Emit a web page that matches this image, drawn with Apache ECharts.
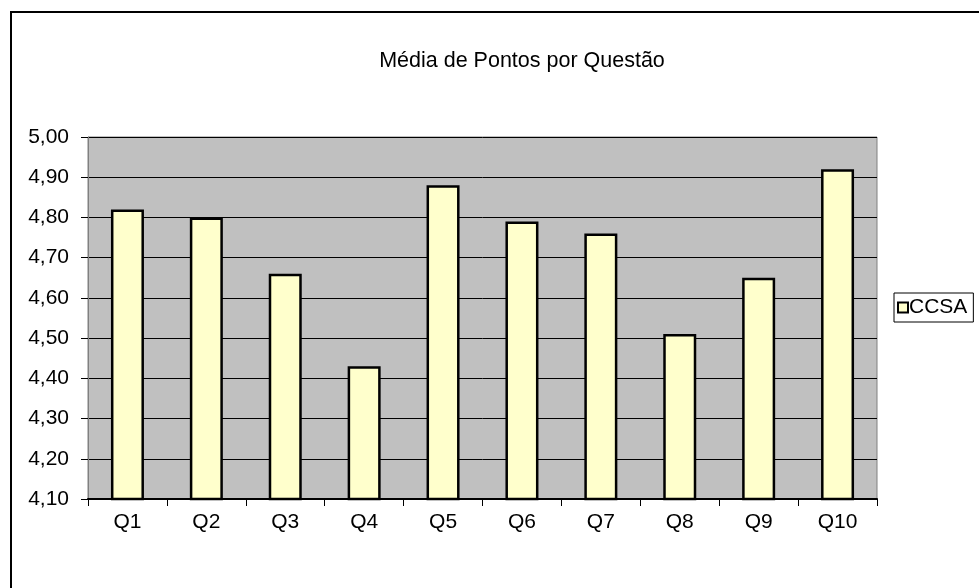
<!DOCTYPE html>
<html>
<head>
<meta charset="utf-8">
<script src="https://cdn.jsdelivr.net/npm/echarts@6/dist/echarts.min.js"></script>
<style>
  html, body { margin: 0; padding: 0; background: #fff; }
  #main { width: 979px; height: 588px; }
</style>
</head>
<body>
<div id="main"></div>
<script>
// dados
const categorias = ['Q1', 'Q2', 'Q3', 'Q4', 'Q5', 'Q6', 'Q7', 'Q8', 'Q9', 'Q10'];
const mediasCCSA = [4.82, 4.80, 4.66, 4.43, 4.88, 4.79, 4.76, 4.51, 4.65, 4.92];
const eixoY = { min: 4.10, max: 5.00, passo: 0.10 };

const chart = echarts.init(document.getElementById('main'));

const fonte = 'Liberation Sans, Arial, sans-serif';

const option = {
  backgroundColor: '#ffffff',
  animation: false,
  title: {
    text: 'Média de Pontos por Questão',
    left: 517,
    top: 45,
    textAlign: 'center',
    textStyle: { fontFamily: fonte, fontSize: 21.5, fontWeight: 'normal', color: '#000' }
  },
  graphic: [{
    type: 'rect',
    shape: { x: 11, y: 12, width: 1000, height: 600 },
    style: { fill: 'none', stroke: '#000', lineWidth: 2 },
    silent: true
  }],
  legend: {
    data: ['CCSA'],
    left: 894,
    top: 293,
    orient: 'vertical',
    itemWidth: 10,
    itemHeight: 10,
    itemGap: 4,
    padding: [4, 6, 4, 3],
    borderColor: '#000',
    borderWidth: 1,
    icon: 'rect',
    textStyle: { fontFamily: fonte, fontSize: 21, color: '#000', padding: [0, 0, 0, -4] }
  },
  grid: {
    left: 88,
    right: 102,
    top: 137,
    bottom: 89,
    show: true,
    backgroundColor: '#C0C0C0',
    borderColor: '#808080',
    borderWidth: 1
  },
  xAxis: {
    type: 'category',
    data: categorias,
    axisLine: { show: true, lineStyle: { color: '#000', width: 2 } },
    axisTick: { show: true, length: 7, alignWithLabel: false, lineStyle: { color: '#000' } },
    axisLabel: { fontFamily: fonte, fontSize: 21, color: '#000', margin: 13 },
    splitLine: { show: false }
  },
  yAxis: {
    type: 'value',
    min: eixoY.min,
    max: eixoY.max,
    interval: eixoY.passo,
    axisLine: { show: true, lineStyle: { color: '#808080', width: 1 } },
    axisTick: { show: true, length: 7, lineStyle: { color: '#000' } },
    axisLabel: {
      fontFamily: fonte, fontSize: 21, color: '#000', margin: 19,
      formatter: v => v.toFixed(2).replace('.', ',')
    },
    splitLine: { show: true, lineStyle: { color: '#000', width: 1 } }
  },
  series: [{
    name: 'CCSA',
    type: 'bar',
    data: mediasCCSA,
    barWidth: 33,
    itemStyle: { color: '#FFFFCC', borderColor: '#000', borderWidth: 2.5 }
  }]
};

chart.setOption(option);
</script>
</body>
</html>
